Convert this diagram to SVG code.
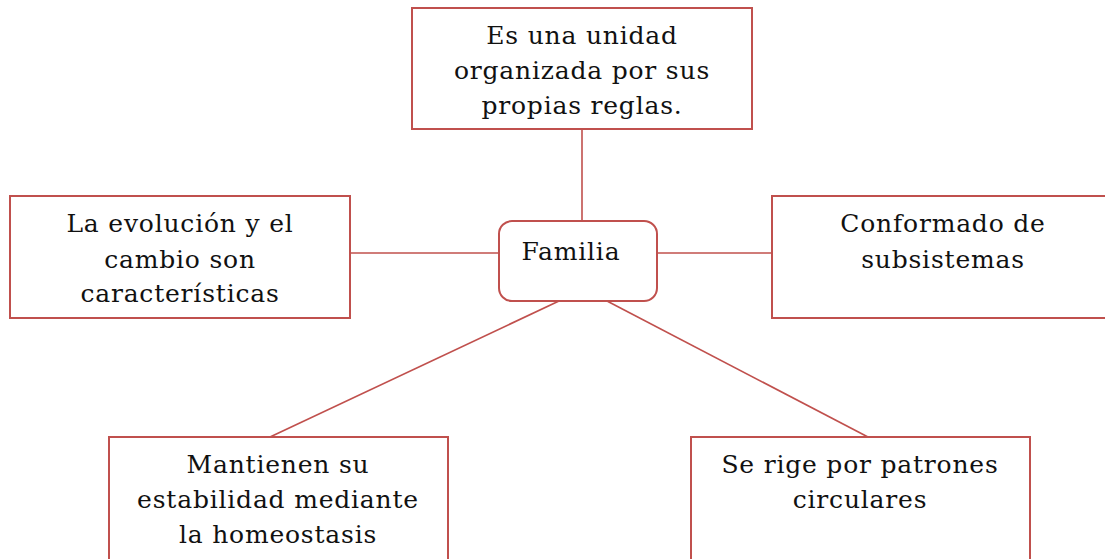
<svg xmlns="http://www.w3.org/2000/svg" width="1105" height="559" viewBox="0 0 1105 559">
<style>
.box{fill:#fff;stroke:#c0504d;stroke-width:2}
.ln{stroke:#c0504d;stroke-width:1.6;fill:none}
text{font-family:"DejaVu Serif","Liberation Serif",serif;font-size:25px;letter-spacing:0.8px;fill:#111;text-anchor:middle}
</style>
<rect width="1105" height="559" fill="#fff"/>
<g id="connectors">
<line class="ln" x1="582" y1="129" x2="582" y2="221"/>
<line class="ln" x1="350" y1="253" x2="499" y2="253"/>
<line class="ln" x1="657" y1="253" x2="772" y2="253"/>
<line class="ln" x1="559" y1="301" x2="270" y2="437"/>
<line class="ln" x1="607" y1="301" x2="868" y2="437"/>
</g>
<g id="top">
<rect class="box" x="412" y="8" width="340" height="121"/>
<text x="582" y="44">Es una unidad</text>
<text x="582" y="79">organizada por sus</text>
<text x="582" y="114">propias reglas.</text>
</g>
<g id="left">
<rect class="box" x="10" y="196" width="340" height="122"/>
<text x="180" y="232">La evolución y el</text>
<text x="180" y="268">cambio son</text>
<text x="180" y="302">características</text>
</g>
<g id="right">
<rect class="box" x="772" y="196" width="340" height="122"/>
<text x="943" y="232">Conformado de</text>
<text x="943" y="268">subsistemas</text>
</g>
<g id="familia">
<rect class="box" x="499" y="221" width="158" height="80" rx="13"/>
<text x="571" y="260">Familia</text>
</g>
<g id="bottom-left">
<rect class="box" x="109" y="437" width="339" height="130"/>
<text x="278" y="473">Mantienen su</text>
<text x="278" y="508">estabilidad mediante</text>
<text x="278" y="543">la homeostasis</text>
</g>
<g id="bottom-right">
<rect class="box" x="691" y="437" width="339" height="130"/>
<text x="860" y="473">Se rige por patrones</text>
<text x="860" y="508">circulares</text>
</g>
</svg>
